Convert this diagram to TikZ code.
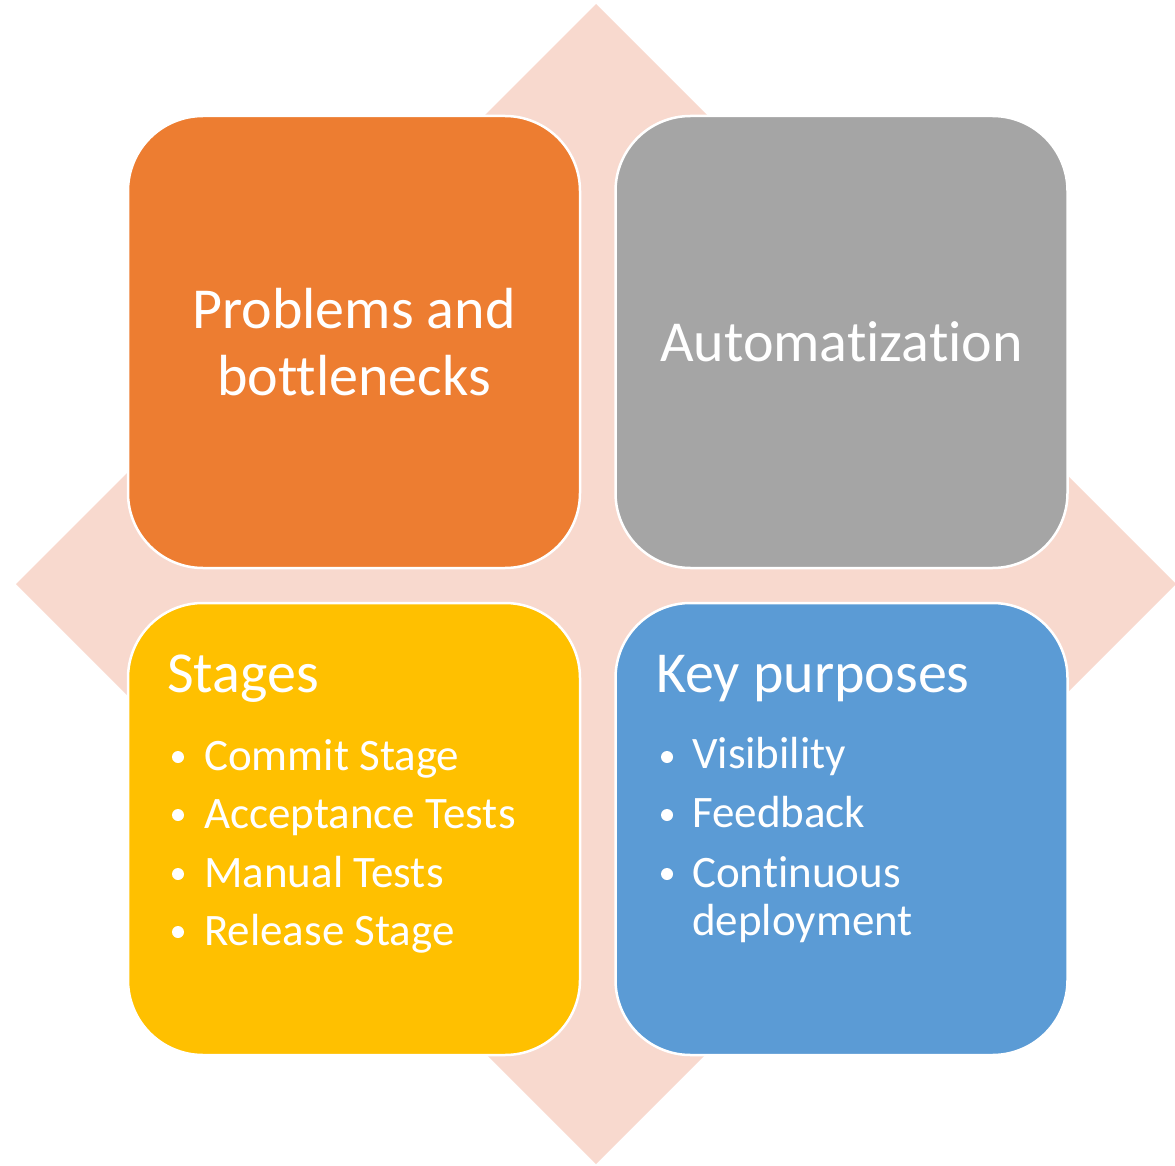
\documentclass[tikz,border=0pt]{standalone}
\usepackage{fontspec}
\setmainfont{Carlito}[Ligatures=CommonOff]
\usepackage{xcolor}
\usetikzlibrary{positioning}
\definecolor{accorange}{HTML}{ED7D31}
\definecolor{accgray}{HTML}{A5A5A5}
\definecolor{accyellow}{HTML}{FFC000}
\definecolor{accblue}{HTML}{5B9BD5}
\definecolor{diamondpink}{HTML}{F8D9CE}

\begin{document}
\begin{tikzpicture}[x=1pt,y=-1pt]
  \tikzstyle{quad} = [rectangle, draw=white, line width=2.5pt, rounded corners=75pt,
  minimum width=452pt, minimum height=452pt, inner sep=0pt, text=white,
  align=center, font=\fontsize{58}{67}\selectfont]
  \tikzstyle{head} = [anchor=base west, text=white, inner sep=0pt, font=\fontsize{58}{67}\selectfont]
  \tikzstyle{item} = [anchor=base west, text=white, inner sep=0pt, font=\fontsize{45}{48}\selectfont]
  \tikzstyle{dot} = [circle, fill=white, inner sep=0pt, minimum size=12pt]
\useasboundingbox (0,0) rectangle (1175,1166);
\fill [diamondpink] (596,4) -- (1176,584) -- (596,1164) -- (16,584) -- cycle;
\node [quad, fill=accorange] (problems) at (354,342) {Problems and\\bottlenecks};
\node [quad, fill=accgray] (auto) at (841.5,342) {Automatization};
\node [quad, fill=accyellow] (stages) at (354,829) {};
\node [quad, fill=accblue] (purposes) at (841.5,829) {};
% stages list
\node [head] (stageshead) at (167,692) {Stages};
\node [dot] (d1) at (178,757) {};
\node [item] (commit) at (204,770) {Commit Stage};
\node [dot] (d2) at (178,815) {};
\node [item] (accept) at (204,828) {Acceptance Tests};
\node [dot] (d3) at (178,874) {};
\node [item] (manual) at (204,887) {Manual Tests};
\node [dot] (d4) at (178,932) {};
\node [item] (release) at (204,945) {Release Stage};
% key purposes list
\node [head] (keyhead) at (656,692) {Key purposes};
\node [dot] (d5) at (667,757) {};
\node [item] (visib) at (692,768) {Visibility};
\node [dot] (d6) at (667,815) {};
\node [item] (feedb) at (692,827) {Feedback};
\node [dot] (d7) at (667,874) {};
\node [item] (contin) at (692,887) {Continuous};
\node [item] (deploy) at (692,935) {deployment};
\end{tikzpicture}
\end{document}
